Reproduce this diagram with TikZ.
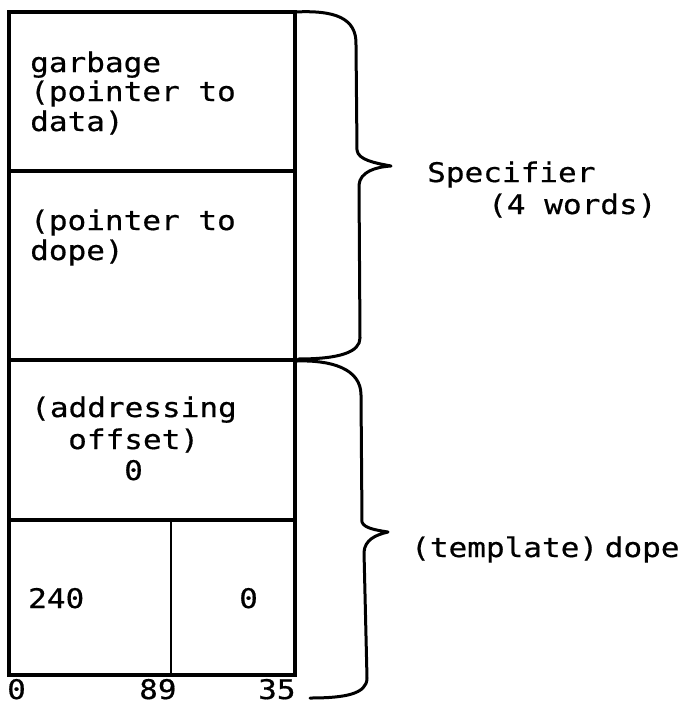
\documentclass[tikz,border=0pt]{standalone}
\usepackage{fontspec}
\newfontfamily\tw[FakeStretch=1.15,FakeBold=0.6]{DejaVu Sans Mono}
\begin{document}
\begin{tikzpicture}[x=1pt,y=-1pt,
  cell/.style={line width=3.6pt},
  brace/.style={line width=3pt,line cap=round,line join=round},
  lbl/.style={anchor=base west,inner sep=0pt,font=\tw\fontsize{27}{32}\selectfont}]
\useasboundingbox (0,0) rectangle (681,702);
% boxes
\draw[cell] (9,12) rectangle (295,675);
\draw[cell] (9,171) -- (295,171);
\draw[cell] (9,360) -- (295,360);
\draw[cell] (9,520) -- (295,520);
\draw[line width=2.6pt] (171,520) -- (171,675);
% texts
\node[lbl] (g1) at (30,72) {garbage};
\node[lbl] (g2) at (30,101) {(pointer to};
\node[lbl] (g3) at (30,131) {data)};
\node[lbl] (p1) at (30,230) {(pointer to};
\node[lbl] (p2) at (30,260) {dope)};
\node[lbl] (a1) at (31,417) {(addressing};
\node[lbl] (a2) at (68,449) {offset)};
\node[lbl] (a3) at (124,480) {0};
\node[lbl] (n240) at (28,608) {240};
\node[lbl] (n0) at (239,608) {0};
\node[lbl] (b0) at (7,699) {0};
\node[lbl] (b89) at (139,699) {89};
\node[lbl] (b35) at (258,699) {35};
\node[lbl] (spec) at (427,182) {Specifier};
\node[lbl] (words) at (488,214) {(4 words)};
\node[lbl] (tmpl) at (411,557) {(template)\kern-12pt\ dope};
% braces
\draw[brace] (295,12) .. controls (335,10) and (357,18) .. (356,45)
  -- (357,150) .. controls (358,160) and (375,163) .. (391,166)
  .. controls (375,167) and (360,172) .. (359,185)
  -- (360,338) .. controls (360,352) and (340,359) .. (298,359);
\draw[brace] (297,361) .. controls (330,360) and (361,368) .. (361,395)
  -- (362,522) .. controls (364,528) and (375,530) .. (388,532)
  .. controls (375,535) and (365,540) .. (364,552)
  -- (367,678) .. controls (367,694) and (345,698) .. (310,698);
\end{tikzpicture}
\end{document}
